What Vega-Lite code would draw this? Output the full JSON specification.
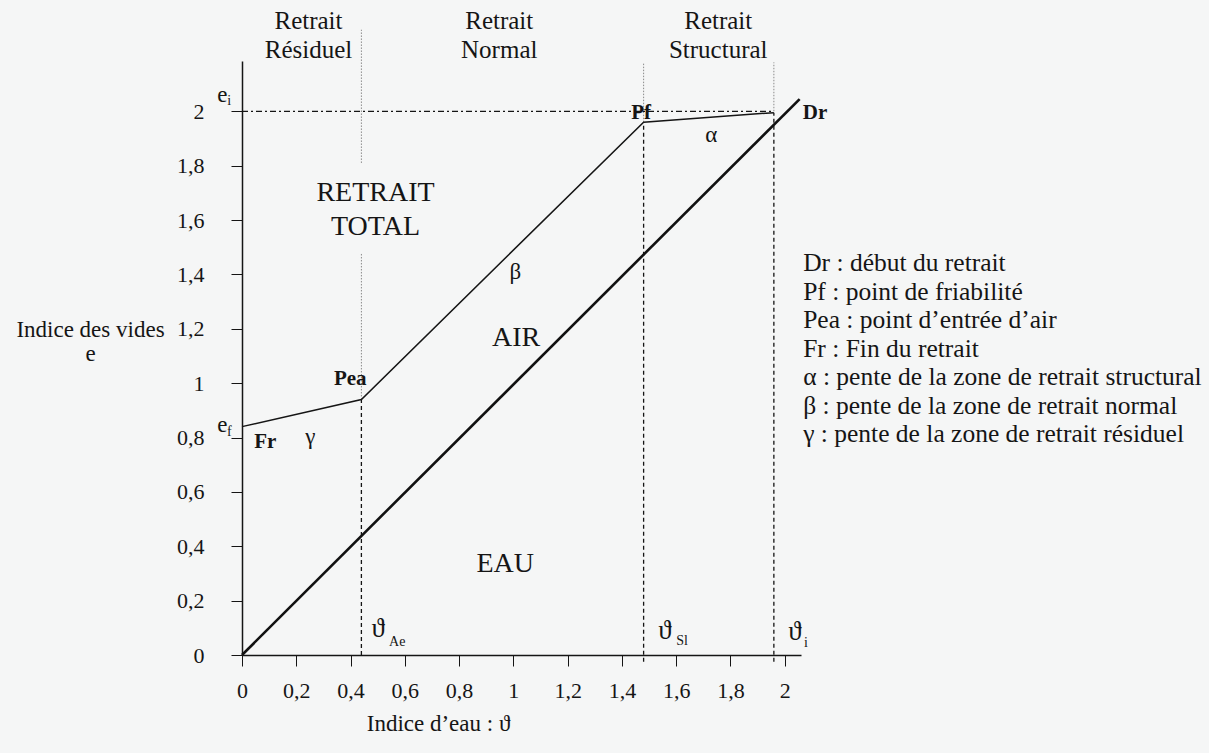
{
  "$schema": "https://vega.github.io/schema/vega-lite/v6.json",
  "width": 559,
  "height": 594,
  "autosize": {"type": "none"},
  "padding": {"left": 242, "top": 61, "right": 408, "bottom": 98},
  "background": "#f5f6f6",
  "config": {
    "view": {"stroke": null},
    "font": "Liberation Serif",
    "text": {"font": "Liberation Serif", "color": "#151515"}
  },
  "datasets": {
    "sat": [{"x": 0, "y": 0}, {"x": 2.055, "y": 2.045}],
    "curve": [
      {"x": 0, "y": 0.84, "pt": "Fr"},
      {"x": 0.44, "y": 0.94, "pt": "Pea"},
      {"x": 1.48, "y": 1.96, "pt": "Pf"},
      {"x": 1.96, "y": 1.995, "pt": "Dr"}
    ],
    "ei": [{"x": 0, "y": 2}, {"x": 1.96, "y": 2}],
    "dashed": [
      {"x": 0.44, "y": 0, "y2": 0.94},
      {"x": 1.48, "y": -0.025, "y2": 1.96},
      {"x": 1.96, "y": -0.025, "y2": 1.995}
    ],
    "dotted": [
      {"x": 0.44, "y": 0.94, "y2": 1.48},
      {"x": 0.44, "y": 1.81, "y2": 2.3},
      {"x": 1.48, "y": 1.96, "y2": 2.18},
      {"x": 1.96, "y": 2.0, "y2": 2.18}
    ],
    "headings": [
      {"x": 0.245, "y": 2.331, "label": "Retrait"},
      {"x": 0.245, "y": 2.224, "label": "Résiduel"},
      {"x": 0.948, "y": 2.331, "label": "Retrait"},
      {"x": 0.948, "y": 2.224, "label": "Normal"},
      {"x": 1.755, "y": 2.331, "label": "Retrait"},
      {"x": 1.755, "y": 2.224, "label": "Structural"}
    ],
    "big": [
      {"x": 0.492, "y": 1.699, "label": "RETRAIT"},
      {"x": 0.492, "y": 1.574, "label": "TOTAL"},
      {"x": 1.01, "y": 1.165, "label": "AIR"},
      {"x": 0.97, "y": 0.333, "label": "EAU"}
    ],
    "points": [
      {"x": 0.399, "y": 1.015, "label": "Pea"},
      {"x": 0.086, "y": 0.783, "label": "Fr"},
      {"x": 1.471, "y": 1.993, "label": "Pf"},
      {"x": 2.112, "y": 1.993, "label": "Dr"}
    ],
    "symbols": [
      {"x": 1.007, "y": 1.408, "label": "β"},
      {"x": 0.252, "y": 0.801, "label": "γ"},
      {"x": 1.729, "y": 1.912, "label": "α"},
      {"x": -0.072, "y": 2.059, "label": "e"},
      {"x": -0.072, "y": 0.846, "label": "e"}
    ],
    "thetas": [
      {"x": 0.502, "y": 0.094, "label": "ϑ"},
      {"x": 1.559, "y": 0.087, "label": "ϑ"},
      {"x": 2.038, "y": 0.083, "label": "ϑ"}
    ],
    "subs": [
      {"x": -0.047, "y": 2.037, "label": "i"},
      {"x": -0.047, "y": 0.82, "label": "f"},
      {"x": 0.572, "y": 0.048, "label": "Ae"},
      {"x": 1.622, "y": 0.051, "label": "Sl"},
      {"x": 2.078, "y": 0.044, "label": "i"}
    ],
    "legend": [
      {"x": 2.068, "y": 1.441, "label": "Dr : début du retrait"},
      {"x": 2.068, "y": 1.336, "label": "Pf : point de friabilité"},
      {"x": 2.068, "y": 1.232, "label": "Pea : point d’entrée d’air"},
      {"x": 2.068, "y": 1.127, "label": "Fr : Fin du retrait"},
      {"x": 2.068, "y": 1.022, "label": "α : pente de la zone de retrait structural"},
      {"x": 2.068, "y": 0.917, "label": "β : pente de la zone de retrait normal"},
      {"x": 2.068, "y": 0.8125, "label": "γ : pente de la zone de retrait résiduel"}
    ]
  },
  "encoding": {
    "x": {
      "field": "x",
      "type": "quantitative",
      "scale": {"domain": [0, 2.06], "nice": false, "zero": false},
      "axis": {
        "values": [0, 0.2, 0.4, 0.6, 0.8, 1, 1.2, 1.4, 1.6, 1.8, 2],
        "labelExpr": "replace(format(datum.value, '.1~f'), '.', ',')",
        "grid": false,
        "tickSize": 11,
        "tickColor": "#151515",
        "domainColor": "#151515",
        "domainWidth": 1.5,
        "labelFont": "Liberation Serif",
        "labelFontSize": 22,
        "labelColor": "#151515",
        "labelPadding": 14,
        "labelFlush": false,
        "labelOverlap": false,
        "title": "Indice d’eau : ϑ",
        "titleFont": "Liberation Serif",
        "titleFontSize": 23,
        "titleFontWeight": "normal",
        "titleColor": "#151515",
        "titleX": 196,
        "titleY": 75,
        "titleAlign": "center",
        "titleBaseline": "alphabetic"
      }
    },
    "y": {
      "field": "y",
      "type": "quantitative",
      "scale": {"domain": [0, 2.185], "nice": false, "zero": false},
      "axis": {
        "values": [0, 0.2, 0.4, 0.6, 0.8, 1, 1.2, 1.4, 1.6, 1.8, 2],
        "labelExpr": "replace(format(datum.value, '.1~f'), '.', ',')",
        "grid": false,
        "tickSize": 11,
        "tickColor": "#151515",
        "domainColor": "#151515",
        "domainWidth": 1.5,
        "labelFont": "Liberation Serif",
        "labelFontSize": 22,
        "labelColor": "#151515",
        "labelPadding": 27,
        "labelFlush": false,
        "labelOverlap": false,
        "title": ["Indice des vides", "e"],
        "titleFont": "Liberation Serif",
        "titleFontSize": 23,
        "titleFontWeight": "normal",
        "titleColor": "#151515",
        "titleAngle": 0,
        "titleX": -152,
        "titleY": 275,
        "titleAlign": "center",
        "titleBaseline": "alphabetic",
        "titleLineHeight": 24
      }
    }
  },
  "layer": [
    {
      "data": {"name": "dotted"},
      "mark": {"type": "rule", "color": "#8a8a8a", "strokeWidth": 1, "strokeDash": [1.5, 1.5]},
      "encoding": {"y2": {"field": "y2"}}
    },
    {
      "data": {"name": "dashed"},
      "mark": {"type": "rule", "color": "#151515", "strokeWidth": 1.3, "strokeDash": [4, 3]},
      "encoding": {"y2": {"field": "y2"}}
    },
    {
      "data": {"name": "ei"},
      "mark": {"type": "line", "color": "#151515", "strokeWidth": 1.2, "strokeDash": [6, 3, 2, 3]},
      "encoding": {}
    },
    {
      "data": {"name": "sat"},
      "mark": {"type": "line", "color": "#111111", "strokeWidth": 2.6},
      "encoding": {}
    },
    {
      "data": {"name": "curve"},
      "mark": {"type": "line", "color": "#151515", "strokeWidth": 1.5},
      "encoding": {}
    },
    {
      "data": {"name": "headings"},
      "mark": {"type": "text", "fontSize": 25, "align": "center", "baseline": "middle"},
      "encoding": {"text": {"field": "label"}}
    },
    {
      "data": {"name": "big"},
      "mark": {"type": "text", "fontSize": 28, "align": "center", "baseline": "middle"},
      "encoding": {"text": {"field": "label"}}
    },
    {
      "data": {"name": "points"},
      "mark": {"type": "text", "fontSize": 21, "fontWeight": "bold", "align": "center", "baseline": "middle"},
      "encoding": {"text": {"field": "label"}}
    },
    {
      "data": {"name": "symbols"},
      "mark": {"type": "text", "fontSize": 23, "align": "center", "baseline": "middle"},
      "encoding": {"text": {"field": "label"}}
    },
    {
      "data": {"name": "thetas"},
      "mark": {"type": "text", "fontSize": 27, "align": "center", "baseline": "middle"},
      "encoding": {"text": {"field": "label"}}
    },
    {
      "data": {"name": "subs"},
      "mark": {"type": "text", "fontSize": 14, "align": "center", "baseline": "middle"},
      "encoding": {"text": {"field": "label"}}
    },
    {
      "data": {"name": "legend"},
      "mark": {"type": "text", "fontSize": 25.5, "align": "left", "baseline": "middle"},
      "encoding": {"text": {"field": "label"}}
    }
  ]
}
